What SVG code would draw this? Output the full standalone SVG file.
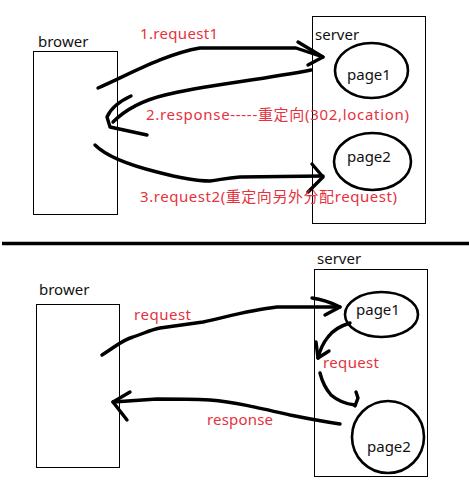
<svg xmlns="http://www.w3.org/2000/svg" width="469" height="494" viewBox="0 0 469 494">
<style>
.box{fill:none;stroke:#000;stroke-width:1}
.page{fill:none;stroke:#000;stroke-width:2.6}
.arr{fill:none;stroke:#000;stroke-width:3.4;stroke-linecap:round;stroke-linejoin:round}
.t{font-family:"Noto Sans","Noto Sans CJK SC",sans-serif;font-size:15px;fill:#111}
.r{font-family:"Noto Sans","Noto Sans CJK SC",sans-serif;font-size:15px;fill:#e6323e}
</style>
<rect x="0" y="0" width="469" height="494" fill="#fff"/>
<line x1="2" y1="243.5" x2="469" y2="243.5" stroke="#000" stroke-width="3.5"/>

<g id="top-browser">
<rect class="box" x="33.5" y="51.5" width="84" height="163"/>
<text class="t" x="38" y="47">brower</text>
</g>
<g id="top-server">
<rect class="box" x="312.5" y="16.5" width="113" height="207"/>
<text class="t" x="315" y="40">server</text>
</g>
<g id="top-page1">
<ellipse class="page" cx="371.5" cy="70.5" rx="36.5" ry="27.5"/>
<text class="t" x="347" y="80">page1</text>
</g>
<g id="top-page2">
<ellipse class="page" cx="372.5" cy="161.5" rx="38.5" ry="28.5"/>
<text class="t" x="347" y="162">page2</text>
</g>

<g id="bottom-browser">
<rect class="box" x="36.5" y="304.5" width="83" height="163"/>
<text class="t" x="39" y="295">brower</text>
</g>
<g id="bottom-server">
<rect class="box" x="314.5" y="269.5" width="113" height="207"/>
<text class="t" x="317" y="264">server</text>
</g>
<g id="bottom-page1">
<ellipse class="page" cx="381.5" cy="314.5" rx="36.5" ry="22.5"/>
<text class="t" x="356" y="315">page1</text>
</g>
<g id="bottom-page2">
<ellipse class="page" cx="388" cy="437" rx="36" ry="36"/>
<text class="t" x="367" y="452">page2</text>
</g>

<g id="connectors">
<path class="arr" d="M98,88 C130,74 165,54 200,48 L296,48 L323,57"/>
<path class="arr" d="M298,42 L323,57 L308,65"/>
<path class="arr" d="M311,70 C260,80 200,86 165,95 C140,101 125,110 113,122"/>
<path class="arr" d="M131,96 C118,102 110,110 107,117 L110,127 L147,135"/>
<path class="arr" d="M95,145 C105,155 125,164 157,172 C180,178 195,181 210,181 C220,180 225,178 240,177 L323,176"/>
<path class="arr" d="M312,164 L323,177 L308,192"/>

<path class="arr" d="M102,355 C115,347 122,340 133,337 C145,333 150,330 160,328 L203,322 C230,316 250,310 277,307 L340,307"/>
<path class="arr" d="M312,298 C320,299 330,302 340,307 L325,315"/>
<path class="arr" d="M350,323 C340,326 333,330 328,337 C323,343 320,350 318,358"/>
<path class="arr" d="M316,342 L318,358 L329,351"/>
<path class="arr" d="M320,373 C322,381 325,388 331,395 C338,401 346,404 355,405"/>
<path class="arr" d="M356,392 L358,398 L355,406"/>
<path class="arr" d="M340,424 C320,421 305,418 290,415 C260,408 235,402 210,400 C190,399 175,399 157,399 L113,402"/>
<path class="arr" d="M130,392 L113,402 L127,420"/>
</g>

<g id="labels">
<text class="r" x="140" y="39" textLength="78">1.request1</text>
<text class="r" x="146" y="120" textLength="263">2.response-----重定向(302,location)</text>
<text class="r" x="140" y="202" textLength="257">3.request2(重定向另外分配request)</text>
<text class="r" x="134" y="320" textLength="57">request</text>
<text class="r" x="323" y="368" textLength="56">request</text>
<text class="r" x="207" y="425" textLength="66">response</text>
</g>
</svg>
